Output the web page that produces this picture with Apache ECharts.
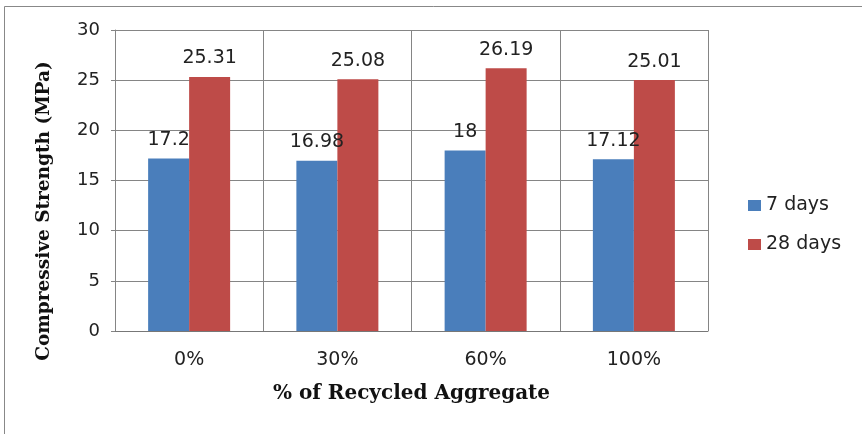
<!DOCTYPE html>
<html>
<head>
<meta charset="utf-8">
<script src="https://cdn.jsdelivr.net/npm/echarts@6/dist/echarts.min.js"></script>
<style>
  html, body { margin: 0; padding: 0; background: #fff; }
  #chart { width: 862px; height: 434px; }
</style>
</head>
<body>
<div id="chart"></div>
<script>
// data
const categories = ['0%', '30%', '60%', '100%'];
const days7 = [17.2, 16.98, 18, 17.12];
const days28 = [25.31, 25.08, 26.19, 25.01];
const seriesNames = ['7 days', '28 days'];

const chart = echarts.init(document.getElementById('chart'));

const labelFont = 'DejaVu Sans, Verdana, sans-serif';
const titleFont = 'DejaVu Serif, Cambria, serif';
const gridColor = '#858585';

const option = {
  backgroundColor: '#fff',
  animation: false,
  grid: { left: 115, right: 154, top: 30, bottom: 103 },
  legend: {
    data: seriesNames,
    orient: 'vertical',
    left: 743,
    top: 191,
    itemWidth: 13,
    itemHeight: 11,
    itemGap: 20,
    icon: 'rect',
    textStyle: { fontFamily: labelFont, fontSize: 19, color: '#222' }
  },
  xAxis: {
    type: 'category',
    data: categories,
    name: '% of Recycled Aggregate',
    nameLocation: 'middle',
    nameGap: 53,
    nameTextStyle: { fontFamily: titleFont, fontWeight: 'bold', fontSize: 20, color: '#111' },
    axisLine: { lineStyle: { color: '#777' } },
    axisTick: { show: false },
    axisLabel: { margin: 20, fontFamily: labelFont, fontSize: 19, color: '#222' },
    splitLine: { show: true, lineStyle: { color: gridColor } }
  },
  yAxis: {
    type: 'value',
    min: 0,
    max: 30,
    interval: 5,
    axisLine: { show: true, lineStyle: { color: gridColor } },
    axisTick: { show: true, length: 4, lineStyle: { color: gridColor } },
    axisLabel: { margin: 15, fontFamily: labelFont, fontSize: 18, color: '#222' },
    splitLine: { lineStyle: { color: gridColor } }
  },
  graphic: [
    // only the top and left edges of the frame are inside the picture
    {
      type: 'polyline',
      shape: { points: [[4.5, 434], [4.5, 6.5], [862, 6.5]] },
      style: { fill: 'none', stroke: '#888', lineWidth: 1 },
      z: -1
    },
    {
      type: 'text',
      x: 44,
      y: 211,
      rotation: Math.PI / 2,
      style: {
        text: 'Compressive Strength (MPa)',
        font: 'bold 18.5px ' + titleFont,
        fill: '#111',
        textAlign: 'center',
        textVerticalAlign: 'middle'
      }
    }
  ],
  series: [
    {
      name: seriesNames[0],
      type: 'bar',
      data: days7,
      barWidth: 41,
      barGap: '0%',
      itemStyle: { color: '#4a7ebb' },
      label: { show: true, position: 'top', distance: 9, fontFamily: labelFont, fontSize: 19, color: '#222' }
    },
    {
      name: seriesNames[1],
      type: 'bar',
      data: days28,
      barWidth: 41,
      barGap: '0%',
      itemStyle: { color: '#be4b48' },
      label: { show: true, position: 'top', distance: 9, fontFamily: labelFont, fontSize: 19, color: '#222' }
    }
  ]
};

chart.setOption(option);
window.addEventListener('resize', () => chart.resize());
</script>
</body>
</html>
